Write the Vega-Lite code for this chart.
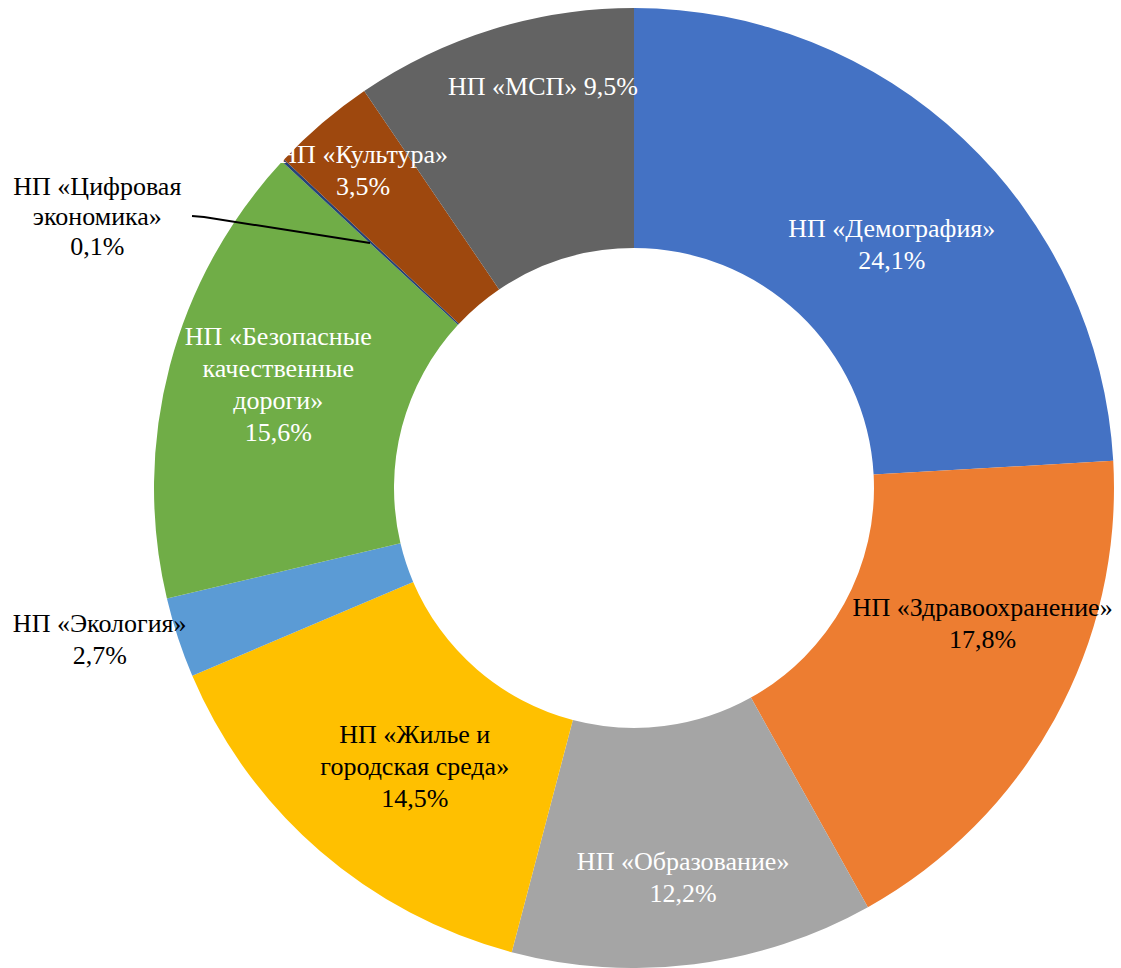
{
  "$schema": "https://vega.github.io/schema/vega-lite/v6.json",
  "width": 974,
  "height": 960,
  "autosize": "none",
  "padding": {"left": 147, "top": 8, "right": 0, "bottom": 0},
  "background": "white",
  "config": {
    "view": {"stroke": null},
    "text": {"fontSize": 26, "lineBreak": "\n", "lineHeight": 32, "align": "center", "baseline": "middle"}
  },
  "data": {
    "values": [
      {"idx": 1, "name": "Демография", "label": "НП «Демография»\n24,1%", "value": 24.1},
      {"idx": 2, "name": "Здравоохранение", "label": "НП «Здравоохранение»\n17,8%", "value": 17.8},
      {"idx": 3, "name": "Образование", "label": "НП «Образование»\n12,2%", "value": 12.2},
      {"idx": 4, "name": "Жилье и городская среда", "label": "НП «Жилье и\nгородская среда»\n14,5%", "value": 14.5},
      {"idx": 5, "name": "Экология", "label": "НП «Экология»\n2,7%", "value": 2.7},
      {"idx": 6, "name": "Безопасные качественные дороги", "label": "НП «Безопасные\nкачественные\nдороги»\n15,6%", "value": 15.6},
      {"idx": 7, "name": "Цифровая экономика", "label": "НП «Цифровая\nэкономика»\n0,1%", "value": 0.1},
      {"idx": 8, "name": "Культура", "label": "НП «Культура»\n3,5%", "value": 3.5},
      {"idx": 9, "name": "МСП", "label": "НП «МСП» 9,5%", "value": 9.5}
    ]
  },
  "layer": [
    {
      "mark": {"type": "arc", "outerRadius": 480, "innerRadius": 240},
      "encoding": {
        "theta": {"field": "value", "type": "quantitative", "stack": true},
        "order": {"field": "idx", "type": "quantitative"},
        "color": {
          "field": "name",
          "type": "nominal",
          "legend": null,
          "scale": {
            "domain": ["Демография", "Здравоохранение", "Образование", "Жилье и городская среда", "Экология", "Безопасные качественные дороги", "Цифровая экономика", "Культура", "МСП"],
            "range": ["#4472C4", "#ED7D31", "#A5A5A5", "#FFC000", "#5B9BD5", "#70AD47", "#264478", "#9E480E", "#636363"]
          }
        }
      }
    },
    {
      "mark": {"type": "text", "font": "Liberation Serif", "radius": 355, "dx": 14, "dy": -1, "fill": "white"},
      "encoding": {
        "theta": {"field": "value", "type": "quantitative", "stack": true},
        "order": {"field": "idx", "type": "quantitative"},
        "text": {"condition": {"test": "datum.name === 'Демография'", "field": "label"}, "value": ""}
      }
    },
    {
      "mark": {"type": "text", "font": "Liberation Serif", "radius": 375, "dx": 20, "dy": -61, "fill": "black"},
      "encoding": {
        "theta": {"field": "value", "type": "quantitative", "stack": true},
        "order": {"field": "idx", "type": "quantitative"},
        "text": {"condition": {"test": "datum.name === 'Здравоохранение'", "field": "label"}, "value": ""}
      }
    },
    {
      "mark": {"type": "text", "font": "Liberation Serif", "radius": 392, "dx": 0, "dy": -15, "fill": "white"},
      "encoding": {
        "theta": {"field": "value", "type": "quantitative", "stack": true},
        "order": {"field": "idx", "type": "quantitative"},
        "text": {"condition": {"test": "datum.name === 'Образование'", "field": "label"}, "value": ""}
      }
    },
    {
      "mark": {"type": "text", "font": "Liberation Serif", "radius": 355, "dx": 13, "dy": -21, "fill": "black"},
      "encoding": {
        "theta": {"field": "value", "type": "quantitative", "stack": true},
        "order": {"field": "idx", "type": "quantitative"},
        "text": {"condition": {"test": "datum.name === 'Жилье и городская среда'", "field": "label"}, "value": ""}
      }
    },
    {
      "mark": {"type": "text", "font": "Liberation Serif", "radius": 555, "dx": -7, "dy": -37, "fill": "black"},
      "encoding": {
        "theta": {"field": "value", "type": "quantitative", "stack": true},
        "order": {"field": "idx", "type": "quantitative"},
        "text": {"condition": {"test": "datum.name === 'Экология'", "field": "label"}, "value": ""}
      }
    },
    {
      "mark": {"type": "text", "font": "Liberation Serif", "radius": 372, "dx": 4, "dy": -56, "fill": "white"},
      "encoding": {
        "theta": {"field": "value", "type": "quantitative", "stack": true},
        "order": {"field": "idx", "type": "quantitative"},
        "text": {"condition": {"test": "datum.name === 'Безопасные качественные дороги'", "field": "label"}, "value": ""}
      }
    },
    {
      "mark": {"type": "text", "font": "Liberation Serif", "lineHeight": 30, "radius": 600, "dx": -98, "dy": 108, "fill": "black"},
      "encoding": {
        "theta": {"field": "value", "type": "quantitative", "stack": true},
        "order": {"field": "idx", "type": "quantitative"},
        "text": {"condition": {"test": "datum.name === 'Цифровая экономика'", "field": "label"}, "value": ""}
      }
    },
    {
      "mark": {"type": "text", "font": "Liberation Serif", "radius": 417, "dx": 0, "dy": -16, "fill": "white"},
      "encoding": {
        "theta": {"field": "value", "type": "quantitative", "stack": true},
        "order": {"field": "idx", "type": "quantitative"},
        "text": {"condition": {"test": "datum.name === 'Культура'", "field": "label"}, "value": ""}
      }
    },
    {
      "mark": {"type": "text", "font": "Liberation Serif", "radius": 415, "dx": 31, "dy": -4, "fill": "white"},
      "encoding": {
        "theta": {"field": "value", "type": "quantitative", "stack": true},
        "order": {"field": "idx", "type": "quantitative"},
        "text": {"condition": {"test": "datum.name === 'МСП'", "field": "label"}, "value": ""}
      }
    },
    {
      "data": {"values": [{"lx": -0.9208, "ly": 0.5667}, {"lx": -0.8958, "ly": 0.5646}, {"lx": -0.55, "ly": 0.5104}]},
      "mark": {"type": "line", "color": "black", "strokeWidth": 2},
      "encoding": {
        "x": {"field": "lx", "type": "quantitative", "axis": null, "scale": {"domain": [-1.01458, 1.01458], "nice": false, "zero": false}},
        "y": {"field": "ly", "type": "quantitative", "axis": null, "scale": {"domain": [-1, 1], "nice": false, "zero": false}}
      }
    }
  ]
}
